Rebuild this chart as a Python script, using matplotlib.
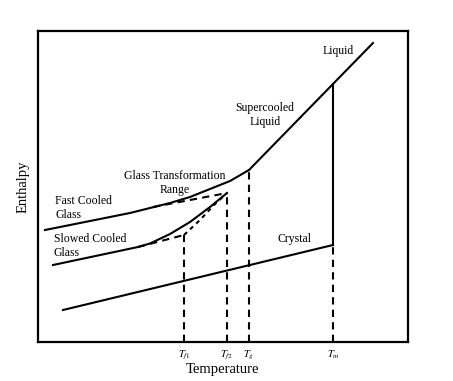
import matplotlib
matplotlib.use("Agg")
import matplotlib.pyplot as plt

plt.rcParams['font.family'] = ['Liberation Serif', 'DejaVu Serif']
plt.rcParams['mathtext.fontset'] = 'stix'

# Temperature (x) and enthalpy (y) in arbitrary units
liquid_T = [249, 373]
liquid_H = [230, 357]

crystal_T = [63, 333]
crystal_H = [90, 155]

fast_T = [45, 130, 150, 170, 190, 210, 230, 249]
fast_H = [170, 187, 192, 197, 203, 211, 219, 230]

slow_T = [53, 138, 150, 170, 190, 210, 227]
slow_H = [135, 153, 156.5, 166, 178, 193, 207]

fast_dash_T = [153, 227]
fast_dash_H = [193, 207]

slow_dash_T = [138, 184]
slow_dash_H = [153, 165]

transition_T = [184, 200, 214, 227]
transition_H = [165, 180, 195, 207]

melt_T = 333
melt_H_top = 316
melt_H_bot = 155

ref_T = [184, 227, 249, 333]
ref_H = [165, 207, 230, 155]
ref_labels = [r'$T_{f1}$', r'$T_{f2}$', r'$T_g$', r'$T_m$']

ymin, ymax = 58, 369

fig = plt.figure(figsize=(4.53, 3.81), dpi=100)
ax = fig.add_axes([38/453, 39/381, 370/453, 311/381])
ax.set_xlim(38, 408)
ax.set_ylim(ymin, ymax)

lw = 1.5
ax.plot(liquid_T, liquid_H, color='black', lw=lw)
ax.plot(crystal_T, crystal_H, color='black', lw=lw)
ax.plot(fast_T, fast_H, color='black', lw=lw)
ax.plot(slow_T, slow_H, color='black', lw=lw)
ax.plot([melt_T, melt_T], [melt_H_bot, melt_H_top], color='black', lw=lw)

dash = (0, (3.5, 2.5))
ax.plot(fast_dash_T, fast_dash_H, color='black', lw=lw, linestyle=dash)
ax.plot(slow_dash_T, slow_dash_H, color='black', lw=lw, linestyle=dash)
ax.plot(transition_T, transition_H, color='black', lw=lw, linestyle=(0, (2, 2)))
for t, h in zip(ref_T, ref_H):
    ax.plot([t, t], [ymin, h], color='black', lw=lw, linestyle=dash)

ax.set_xticks(ref_T)
ax.set_xticklabels(ref_labels, fontsize=7.5)
ax.tick_params(axis='x', length=0, pad=5)
ax.set_yticks([])
for s in ax.spines.values():
    s.set_linewidth(1.6)

ax.set_xlabel('Temperature', fontsize=10.5, labelpad=1)
ax.set_ylabel('Enthalpy', fontsize=10.5, labelpad=6)

fs = 8.5
ls = 1.25
ax.text(338, 349, 'Liquid', fontsize=fs, ha='center', va='center')
ax.text(265, 285, 'Supercooled\nLiquid', fontsize=fs, ha='center', va='center', linespacing=ls)
ax.text(175, 217, 'Glass Transformation\nRange', fontsize=fs, ha='center', va='center', linespacing=ls)
ax.text(55, 192, 'Fast Cooled\nGlass', fontsize=fs, ha='left', va='center', linespacing=ls)
ax.text(54, 154, 'Slowed Cooled\nGlass', fontsize=fs, ha='left', va='center', linespacing=ls)
ax.text(295, 161, 'Crystal', fontsize=fs, ha='center', va='center')

fig.savefig('out.png', dpi=100)
